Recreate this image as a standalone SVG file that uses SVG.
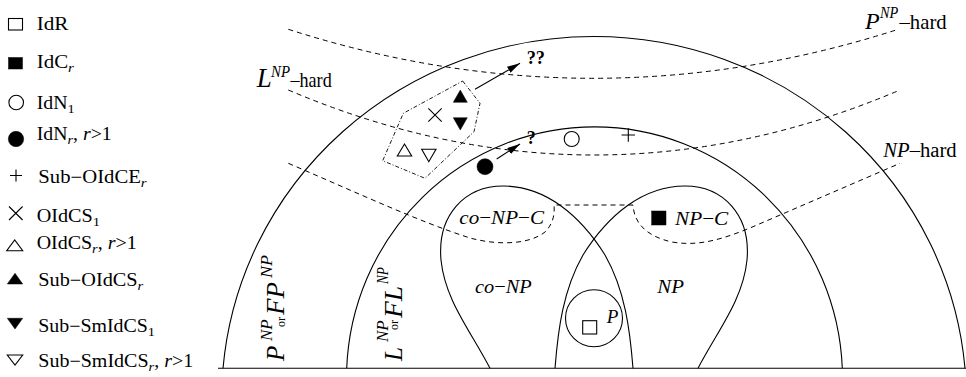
<svg xmlns="http://www.w3.org/2000/svg" width="966" height="377" viewBox="0 0 966 377">
<style>
 .ln{fill:none;stroke:#000;stroke-width:1.1}
 .dash{fill:none;stroke:#000;stroke-width:1;stroke-dasharray:5 4}
 .dd{fill:none;stroke:#000;stroke-width:0.9;stroke-dasharray:4 2 1 2}
 text{font-family:"Liberation Serif","Times New Roman",serif;fill:#000}
 .lg{font-size:18px}
 .it{font-style:italic}
 .up{font-style:normal}
 .sb{font-size:13px}
 .hol{fill:#fff;stroke:#000;stroke-width:1.1}
 .fil{fill:#000;stroke:#000;stroke-width:0.5}
 .x{fill:none;stroke:#000;stroke-width:1.1}
</style>
<defs>
 <marker id="ah" markerWidth="13" markerHeight="7" refX="13" refY="3.5" orient="auto" markerUnits="userSpaceOnUse">
  <path d="M0,0 L13,3.5 L0,7 z" fill="#000"/>
 </marker>
</defs>

<!-- legend -->
<g id="leg-idr"><rect class="hol" x="8.5" y="18.5" width="14" height="11.5"/><text class="lg" x="36.7" y="30" textLength="31.7" lengthAdjust="spacingAndGlyphs">IdR</text></g>
<g id="leg-idc"><rect class="fil" x="8.5" y="57.5" width="14" height="11.5"/><text class="lg" x="36.7" y="68.3" textLength="37.3" lengthAdjust="spacingAndGlyphs">IdC<tspan class="it sb" dy="4">r</tspan></text></g>
<g id="leg-idn1"><circle class="hol" cx="16.2" cy="102.5" r="7.3"/><text class="lg" x="36.7" y="108.5" textLength="38" lengthAdjust="spacingAndGlyphs">IdN<tspan class="sb" dy="4">1</tspan></text></g>
<g id="leg-idnr"><circle class="fil" cx="16" cy="139" r="7.7"/><text class="lg" x="36.7" y="140" textLength="75" lengthAdjust="spacingAndGlyphs">IdN<tspan class="it sb" dy="4">r</tspan><tspan dy="-4">, </tspan><tspan class="it">r</tspan>&gt;1</text></g>
<g id="leg-subolce"><path class="x" d="M10,175.5 H22 M16,169.5 V181.5"/><text class="lg" x="38.3" y="183" textLength="108.4" lengthAdjust="spacingAndGlyphs">Sub−OIdCE<tspan class="it sb" dy="4">r</tspan></text></g>
<g id="leg-oidcs1"><path class="x" d="M9,206.5 L22.6,220 M22.6,206.5 L9,220"/><text class="lg" x="36.7" y="221.7" textLength="63.3" lengthAdjust="spacingAndGlyphs">OIdCS<tspan class="sb" dy="4">1</tspan></text></g>
<g id="leg-oidcsr"><polygon class="hol" points="6.7,250.7 22.7,250.7 14.7,240"/><text class="lg" x="36.7" y="249" textLength="100" lengthAdjust="spacingAndGlyphs">OIdCS<tspan class="it sb" dy="4">r</tspan><tspan dy="-4">, </tspan><tspan class="it">r</tspan>&gt;1</text></g>
<g id="leg-suboidcs"><polygon class="fil" points="7.3,284 22.7,284 15,273.3"/><text class="lg" x="38.3" y="285.7" textLength="105" lengthAdjust="spacingAndGlyphs">Sub−OIdCS<tspan class="it sb" dy="4">r</tspan></text></g>
<g id="leg-subsmidcs1"><polygon class="fil" points="7.3,318.3 22.7,318.3 15,329"/><text class="lg" x="38.3" y="331.7" textLength="116.7" lengthAdjust="spacingAndGlyphs">Sub−SmIdCS<tspan class="sb" dy="4">1</tspan></text></g>
<g id="leg-subsmidcsr"><polygon class="hol" points="7.3,355 22.7,355 15,365"/><text class="lg" x="38.3" y="366.7" textLength="155" lengthAdjust="spacingAndGlyphs">Sub−SmIdCS<tspan class="it sb" dy="4">r</tspan><tspan dy="-4">, </tspan><tspan class="it">r</tspan>&gt;1</text></g>

<!-- regions -->
<g id="baseline"><line class="ln" x1="218" y1="368.3" x2="966" y2="368.3"/></g>
<g id="pnp-region">
 <path class="ln" d="M223,368.3 A372.4,363.3 0 0 1 965,368.3"/>
 <g transform="translate(283.5 361) rotate(-90)">
  <text class="it" x="0" y="0" font-size="25">P</text>
  <text class="it" x="20" y="-12" font-size="17">NP</text>
  <text x="34" y="1.7" font-size="12">or</text>
  <text class="it" x="46" y="0" font-size="25" textLength="33" lengthAdjust="spacingAndGlyphs">FP</text>
  <text class="it" x="83" y="-12" font-size="17" textLength="23" lengthAdjust="spacingAndGlyphs">NP</text>
 </g>
</g>
<g id="lnp-region">
 <path class="ln" d="M346.7,368.3 A248,251.5 0 0 1 842.3,368.3"/>
 <g transform="translate(401.5 361) rotate(-90)">
  <text class="it" x="0" y="0" font-size="25">L</text>
  <text class="it" x="19" y="-14" font-size="17">NP</text>
  <text x="31" y="-3.3" font-size="12">or</text>
  <text class="it" x="43" y="0" font-size="25" textLength="32" lengthAdjust="spacingAndGlyphs">FL</text>
  <text class="it" x="77" y="-14" font-size="17" textLength="17" lengthAdjust="spacingAndGlyphs">NP</text>
 </g>
</g>
<g id="conp">
 <path class="ln" d="M490,368.3 C470,330 445,300 441,260 C437,215 465,186 503,186 C545,186 580,215 605,255 C625,290 630,330 633,368.3"/>
 <text class="it" x="475" y="293.3" font-size="19.5" textLength="56.7" lengthAdjust="spacingAndGlyphs">co<tspan class="up">−</tspan>NP</text>
</g>
<g id="np">
 <path class="ln" d="M490,368.3 C470,330 445,300 441,260 C437,215 465,186 503,186 C545,186 580,215 605,255 C625,290 630,330 633,368.3" transform="matrix(-1 0 0 1 1188 0)"/>
 <text class="it" x="657.3" y="293.3" font-size="19.5" textLength="26.7" lengthAdjust="spacingAndGlyphs">NP</text>
</g>
<g id="p">
 <circle class="ln" cx="594" cy="318.3" r="28.5"/>
 <rect class="hol" x="582.7" y="320.7" width="14" height="13.3"/>
 <text class="it" x="606.7" y="322.7" font-size="19">P</text>
</g>
<g id="conp-c">
 <text class="it" x="459.3" y="224.3" font-size="19.5" textLength="84.7" lengthAdjust="spacingAndGlyphs">co<tspan class="up">−</tspan>NP<tspan class="up">−</tspan>C</text>
</g>
<g id="np-c">
 <rect class="fil" x="651.7" y="211" width="14.3" height="14"/>
 <text class="it" x="675" y="225" font-size="19.5" textLength="53.3" lengthAdjust="spacingAndGlyphs">NP<tspan class="up">−</tspan>C</text>
</g>

<!-- hardness boundaries -->
<g id="pnp-hard">
 <path class="dash" d="M288.3,29.3 Q593.3,127.3 898.3,29.3"/>
 <text class="it" x="865" y="29.3" font-size="24">P</text>
 <text class="it" x="880" y="18.3" font-size="17" textLength="18.3" lengthAdjust="spacingAndGlyphs">NP</text>
 <text x="899.5" y="29.3" font-size="21" textLength="47.2" lengthAdjust="spacingAndGlyphs">–hard</text>
</g>
<g id="lnp-hard">
 <path class="dash" d="M288.3,90 Q594,220 900,90"/>
 <text class="it" x="256.7" y="87.3" font-size="27">L</text>
 <text class="it" x="271" y="76.7" font-size="17" textLength="19" lengthAdjust="spacingAndGlyphs">NP</text>
 <text x="290.5" y="87.3" font-size="21" textLength="41.2" lengthAdjust="spacingAndGlyphs">–hard</text>
</g>
<g id="np-hard">
 <path class="dash" d="M288.3,163.3 C360,194 420,222 470,238 C500,246 530,244 545,232 C553,224 555,214 554,205 L633,205 C634,222 645,236 672,242 C700,247 725,238 750,228 L900,163.3"/>
 <text x="883.3" y="156.7" font-size="20" textLength="73.4" lengthAdjust="spacingAndGlyphs"><tspan class="it">NP</tspan>–hard</text>
</g>

<!-- problem markers -->
<g id="cluster">
 <polygon class="dd" points="462.7,81 480,103.3 474,131.7 425,178.3 382.7,160.7 403.3,113.3"/>
 <polygon class="fil" points="453.3,102.3 467.3,102.3 460.3,90"/>
 <polygon class="fil" points="453.3,117.7 467.3,117.7 460.3,130"/>
 <path class="x" d="M428.3,108.3 L441.7,121.7 M441.7,108.3 L428.3,121.7"/>
 <polygon class="hol" points="397.3,156 411.7,156 404.5,144"/>
 <polygon class="hol" points="421.7,149.3 436,149.3 428.8,161.7"/>
</g>
<g id="idnr-point"><circle class="fil" cx="485" cy="166.7" r="8"/></g>
<g id="idn1-point"><circle class="hol" cx="571.7" cy="139" r="7.5"/></g>
<g id="subolce-point"><path class="x" d="M621.6,135 H635 M628.3,128.3 V141.7"/></g>
<g id="q2"><text x="526.7" y="64" font-size="18" font-weight="bold" textLength="18.3" lengthAdjust="spacingAndGlyphs">??</text></g>
<g id="q1"><text x="526.7" y="144" font-size="18" font-weight="bold">?</text></g>

<g id="connectors">
 <line class="ln" x1="475" y1="89.3" x2="520" y2="63.3" marker-end="url(#ah)"/>
 <line class="ln" x1="496.7" y1="159" x2="520" y2="144" marker-end="url(#ah)"/>
</g>
</svg>
